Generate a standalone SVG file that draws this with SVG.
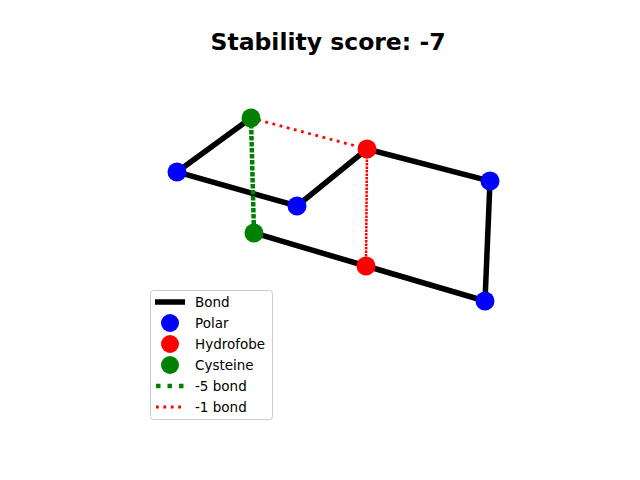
<svg xmlns="http://www.w3.org/2000/svg" width="640" height="480" viewBox="0 0 640 480">
<style>
.bond{stroke:#000;stroke-width:5.5;fill:none;stroke-linecap:butt}
.g5{stroke:#008000;stroke-width:4.5;stroke-dasharray:4.5,1.5;fill:none}
.r1{stroke:#ff0000;stroke-width:2.8;stroke-dasharray:2.8,4.6;fill:none}
.r1d{stroke:#ff0000;stroke-width:2.5;stroke-dasharray:2.5,1;fill:none}
.polar{fill:#0000ff}
.hyd{fill:#ff0000}
.cys{fill:#008000}
text{font-family:"DejaVu Sans",sans-serif;fill:#000}
.lbl{font-size:13.5px}
</style>
<rect width="640" height="480" fill="#fff"/>
<text x="328" y="50" text-anchor="middle" style="font-size:23.5px;font-weight:bold">Stability score: -7</text>
<g id="connectors">
<polyline class="bond" points="251,118 177,172 297,206 367,149 490,181 485,301 366,266 254,233"/>
<line class="g5" x1="251" y1="118" x2="254" y2="233"/>
<line class="r1" x1="251" y1="118" x2="367" y2="149"/>
<line class="r1d" x1="367" y1="149" x2="366" y2="266"/>
</g>
<g id="n1"><circle class="cys" cx="251" cy="118" r="9.5"/></g>
<g id="n2"><circle class="polar" cx="177" cy="172" r="9.5"/></g>
<g id="n3"><circle class="polar" cx="297" cy="206" r="9.5"/></g>
<g id="n4"><circle class="hyd" cx="367" cy="149" r="9.5"/></g>
<g id="n5"><circle class="polar" cx="490" cy="181" r="9.5"/></g>
<g id="n6"><circle class="polar" cx="485" cy="301" r="9.5"/></g>
<g id="n7"><circle class="hyd" cx="366" cy="266" r="9.5"/></g>
<g id="n8"><circle class="cys" cx="254" cy="233" r="9.5"/></g>
<g id="legend">
<rect x="150.5" y="290.5" width="122" height="129" rx="3" fill="#fff" fill-opacity="0.8" stroke="#ccc"/>
<line class="bond" x1="155" y1="302" x2="185" y2="302"/>
<text class="lbl" x="195" y="307">Bond</text>
<circle class="polar" cx="170" cy="323" r="9"/>
<text class="lbl" x="195" y="328">Polar</text>
<circle class="hyd" cx="170" cy="344" r="9"/>
<text class="lbl" x="195" y="349">Hydrofobe</text>
<circle class="cys" cx="170" cy="365" r="9"/>
<text class="lbl" x="195" y="370">Cysteine</text>
<line x1="156" y1="386" x2="184" y2="386" stroke="#008000" stroke-width="4.5" stroke-dasharray="4.5,7"/>
<text class="lbl" x="195" y="391">-5 bond</text>
<line x1="156" y1="407" x2="184" y2="407" stroke="#ff0000" stroke-width="2.8" stroke-dasharray="2.8,4.6"/>
<text class="lbl" x="195" y="412">-1 bond</text>
</g>
</svg>
